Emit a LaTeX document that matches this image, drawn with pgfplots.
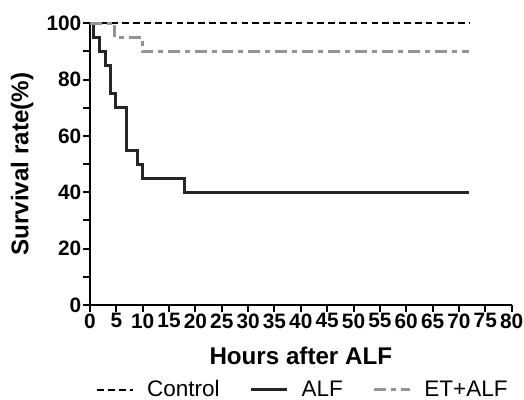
\documentclass[border=0pt]{standalone}
\usepackage{fontspec}
\setmainfont{Liberation Sans}
\usepackage{pgfplots}
\pgfplotsset{compat=1.18}
\begin{document}
\begin{tikzpicture}
\begin{axis}[
    at={(0,0)}, anchor=origin,
    scale only axis,
    width=253pt, height=169pt,
    axis lines=left,
    axis line style={line width=1.2pt, -},
    xmin=0, xmax=80, ymin=0, ymax=100,
    xtick={0,5,...,80},
    ytick={0,20,...,100},
    minor ytick={10,30,50,70,90},
    tick align=outside,
    major tick length=4pt, minor tick length=4pt,
    tick style={line width=1.2pt, black},
    /pgf/number format/assume math mode=true,
    tick label style={font=\bfseries\fontsize{12.5}{14}\selectfont},
    xticklabel style={inner sep=1pt},
    yticklabel style={inner sep=1pt},
    xlabel={\bfseries Hours after ALF},
    ylabel={\bfseries Survival rate(\%)},
    label style={font=\bfseries\fontsize{14.5}{16}\selectfont},
    xlabel style={at={(axis description cs:0.5,-0.181)}, anchor=center},
    ylabel style={at={(axis description cs:-0.161,0.5)}, anchor=center},
    clip=false,
    legend style={at={(0.507,-0.301)}, anchor=center, draw=none, legend columns=3,
        font=\fontsize{13.5}{15}\selectfont,
        /tikz/every odd column/.append style={column sep=6pt},
        /tikz/every even column/.append style={column sep=16pt}},
    legend image post style={xscale=1.25},
]
\addplot[const plot, black, line width=1pt, dash pattern=on 4pt off 2.5pt] coordinates {
    (0,100) (72,100)
};
\addplot[const plot, black!85, line width=1.8pt] coordinates {
    (0,100) (0.7,95) (1.8,90) (2.9,85) (3.9,75) (4.9,70) (6.9,55) (9,50) (10,45) (18,40) (72,40)
};
\addplot[const plot, black!42, line width=1.6pt, dash pattern=on 7pt off 3pt on 3pt off 3pt] coordinates {
    (0,100) (4.7,95) (10,90) (72,90)
};
\legend{Control, ALF, ET+ALF}
\end{axis}
\pgfresetboundingbox
\path[use as bounding box] (-54pt,-57pt) rectangle (260.4pt,183pt);
\end{tikzpicture}
\end{document}
